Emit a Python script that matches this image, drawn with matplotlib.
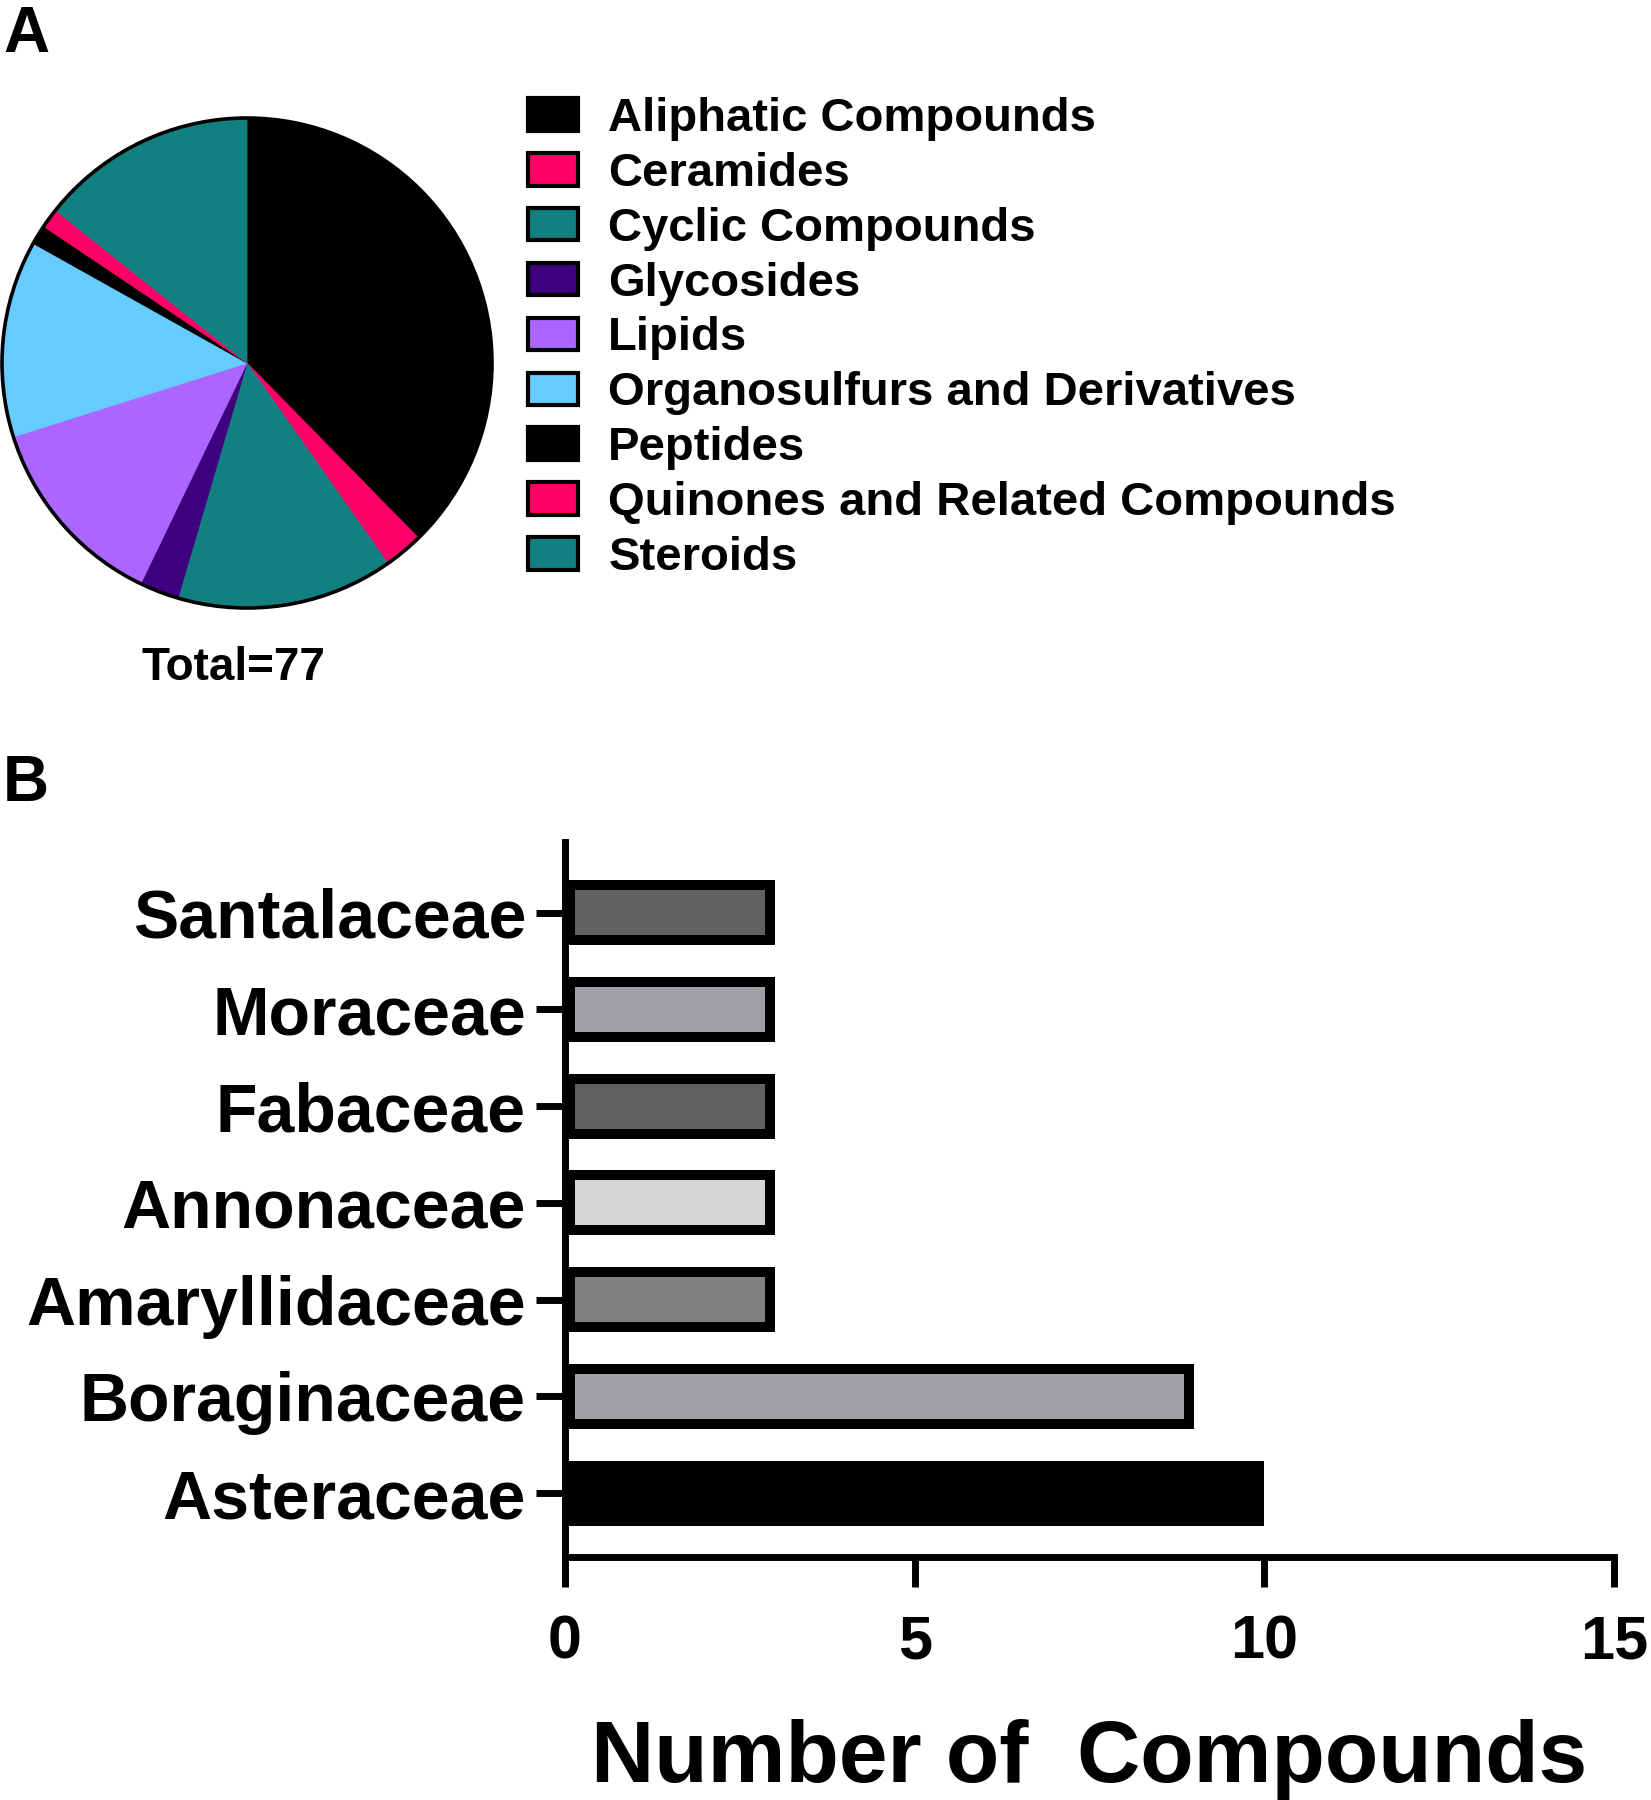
import matplotlib
matplotlib.use("Agg")
import matplotlib.pyplot as plt
from matplotlib.patches import Patch, Circle

plt.rcParams['font.family'] = ['Liberation Sans', 'DejaVu Sans']
plt.rcParams['font.weight'] = 'bold'

# ---- Panel A data ----
classes = ['Aliphatic Compounds', 'Ceramides', 'Cyclic Compounds', 'Glycosides', 'Lipids',
           'Organosulfurs and Derivatives', 'Peptides', 'Quinones and Related Compounds', 'Steroids']
class_counts = [29, 2, 11, 2, 10, 10, 1, 1, 11]
class_colors = ['#000000', '#FF0066', '#118080', '#3F007F', '#AA66FF',
                '#66CCFF', '#000000', '#FF0066', '#118080']
total_label = 'Total=77'

# ---- Panel B data ----
families = ['Asteraceae', 'Boraginaceae', 'Amaryllidaceae', 'Annonaceae', 'Fabaceae', 'Moraceae', 'Santalaceae']
family_counts = [10, 9, 3, 3, 3, 3, 3]
family_colors = ['#000000', '#A1A0A6', '#808080', '#D6D6D6', '#616161', '#A1A0A6', '#616161']
x_ticks = [0, 5, 10, 15]

W, H = 1651, 1800
fig = plt.figure(figsize=(W / 100, H / 100), dpi=100)

def fx(px):
    return px / W

def fy(py):
    return 1 - py / H

# ---- Pie ----
cx, cy, r = 247, 363, 245
axp = fig.add_axes([fx(cx - r), fy(cy + r), 2 * r / W, 2 * r / H])
wedges, _ = axp.pie(class_counts, colors=class_colors, startangle=90, counterclock=False,
                    radius=1, wedgeprops=dict(linewidth=0.6))
for w in wedges:
    w.set_edgecolor(w.get_facecolor())
axp.add_patch(Circle((0, 0), 1, fill=False, edgecolor='black', linewidth=2.6, clip_on=False, zorder=5))
axp.set_xlim(-1, 1)
axp.set_ylim(-1, 1)
axp.set_aspect('equal')
axp.axis('off')

handles = [Patch(facecolor=c, edgecolor='black', linewidth=3) for c in class_colors]
fig.legend(handles, classes, loc='upper left', bbox_to_anchor=(fx(528), fy(97)),
           bbox_transform=fig.transFigure, frameon=False,
           prop=dict(weight='bold', size=34), handlelength=1.05, handleheight=0.68,
           handletextpad=0.65, labelspacing=0.23, borderpad=0, borderaxespad=0)

fig.text(fx(233), fy(680), total_label, ha='center', va='baseline', fontsize=33, fontweight='bold')
fig.text(fx(3), fy(52), 'A', ha='left', va='baseline', fontsize=46, fontweight='bold')
fig.text(fx(3), fy(801), 'B', ha='left', va='baseline', fontsize=46, fontweight='bold')

# ---- Bar chart ----
left, right, top, bottom = 565, 1614, 842, 1557
axb = fig.add_axes([fx(left), fy(bottom), (right - left) / W, (bottom - top) / H])
bars = axb.barh(families, family_counts, height=0.67, color=family_colors,
                edgecolor='black', linewidth=14.4)
for b in bars:
    b.set_clip_path(b)  # keep border inside the bar
axb.set_xlim(0, 15)
axb.set_ylim(-0.66, 6.73)
axb.set_xticks(x_ticks)
axb.set_xticklabels([str(t) for t in x_ticks])
for s in ['top', 'right']:
    axb.spines[s].set_visible(False)
for s in ['left', 'bottom']:
    axb.spines[s].set_linewidth(5)
axb.tick_params(axis='x', length=21.6, width=5, pad=20, labelsize=44)
axb.tick_params(axis='y', length=21, width=5, pad=7, labelsize=49)
for lab in axb.get_xticklabels() + axb.get_yticklabels():
    lab.set_fontweight('bold')
axb.set_xlabel('Number of  Compounds', fontsize=63, fontweight='bold', labelpad=34)

fig.savefig('out.png', dpi=100)
